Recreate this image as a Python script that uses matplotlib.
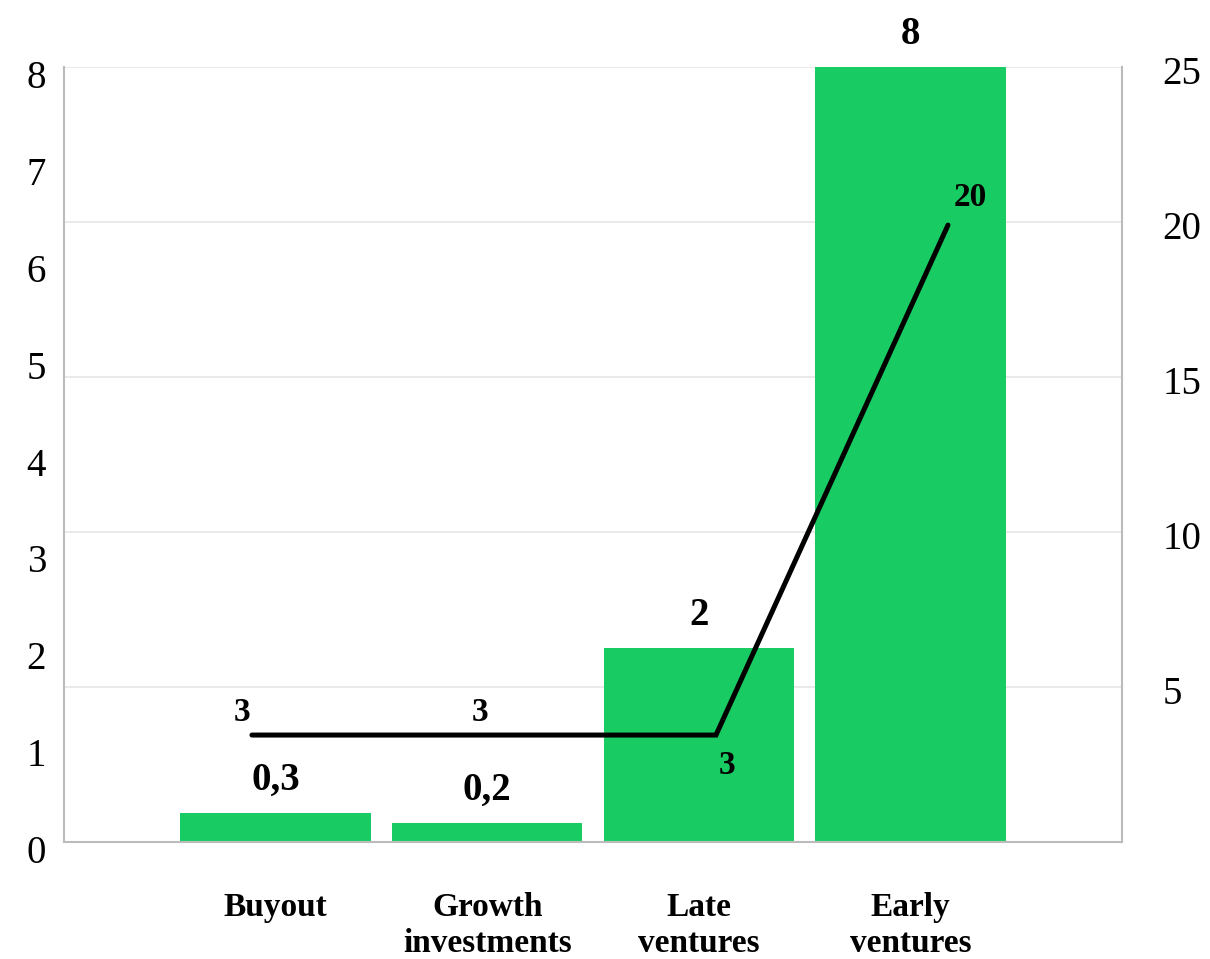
import matplotlib
matplotlib.use("Agg")
import matplotlib.pyplot as plt
import matplotlib.transforms as mtransforms

categories = ["Buyout", "Growth\ninvestments", "Late\nventures", "Early\nventures"]
bar_values = [0.3, 0.2, 2, 8]
bar_labels = ["0,3", "0,2", "2", "8"]
line_values = [3.45, 3.45, 3.45, 19.9]
line_labels = ["3", "3", "3", "20"]

plt.rcParams['font.family'] = ['Liberation Serif', 'DejaVu Serif']

fig = plt.figure(figsize=(12.1, 9.59), dpi=100)
rect = [64/1210, 117/959, 1058/1210, 775/959]

# right scale axes underneath: gridlines + right tick labels
ax2 = fig.add_axes(rect, frameon=False)
ax2.set_xlim(-0.81, 3.75)
ax2.set_ylim(0, 25)
ax2.set_xticks([])
ax2.yaxis.tick_right()
ax2.set_yticks([5, 10, 15, 20, 25])
ax2.tick_params(axis='y', length=0, labelsize=28, pad=29)
ax2.grid(axis='y', color='#e6e6e6', linewidth=1.2)
off2 = mtransforms.ScaledTranslation(0, -3/100, fig.dpi_scale_trans)
for lab in ax2.get_yticklabels():
    lab.set_transform(lab.get_transform() + off2)

# bar axes on top
ax = fig.add_axes(rect)
ax.patch.set_visible(False)
x = list(range(len(categories)))
bars = ax.bar(x, bar_values, width=0.9, color='#18cc63', zorder=2)
ax.set_xlim(-1, 4)
ax.set_ylim(0, 8)
ax.set_yticks(range(0, 9))
ax.tick_params(axis='y', length=0, labelsize=28, pad=13)
ax.tick_params(axis='x', length=0, labelsize=24, pad=36)
ax.set_xticks(x)
ax.set_xticklabels(categories, fontweight='bold', va='top', linespacing=1.2)
off = mtransforms.ScaledTranslation(0, -7/100, fig.dpi_scale_trans)
for lab in ax.get_yticklabels():
    lab.set_transform(lab.get_transform() + off)
ax.spines['top'].set_visible(False)
for s in ['left', 'bottom', 'right']:
    ax.spines[s].set_color('#bbbbbb')
    ax.spines[s].set_linewidth(1.5)

for b, lab in zip(bars, bar_labels):
    ax.annotate(lab, (b.get_x() + b.get_width()/2, b.get_height()),
                xytext=(0, 10), textcoords='offset points', ha='center', va='bottom',
                fontsize=28, fontweight='bold', annotation_clip=False)

# line series uses the right scale (ax2 coordinates), drawn above bars
ax.plot(x, line_values, color='black', linewidth=3.6, solid_capstyle='round',
        solid_joinstyle='miter', zorder=3, transform=ax2.transData)
label_offsets = [(-7, 5, 'bottom'), (-3, 5, 'bottom'), (8, -11, 'top'), (16, 9, 'bottom')]
for xi, v, lab, (dx, dy, va) in zip(x, line_values, line_labels, label_offsets):
    ax.annotate(lab, (xi, v), xycoords=ax2.transData, xytext=(dx, dy),
                textcoords='offset points', ha='center', va=va,
                fontsize=24, fontweight='bold', zorder=4)

fig.savefig("out.png", dpi=100)
